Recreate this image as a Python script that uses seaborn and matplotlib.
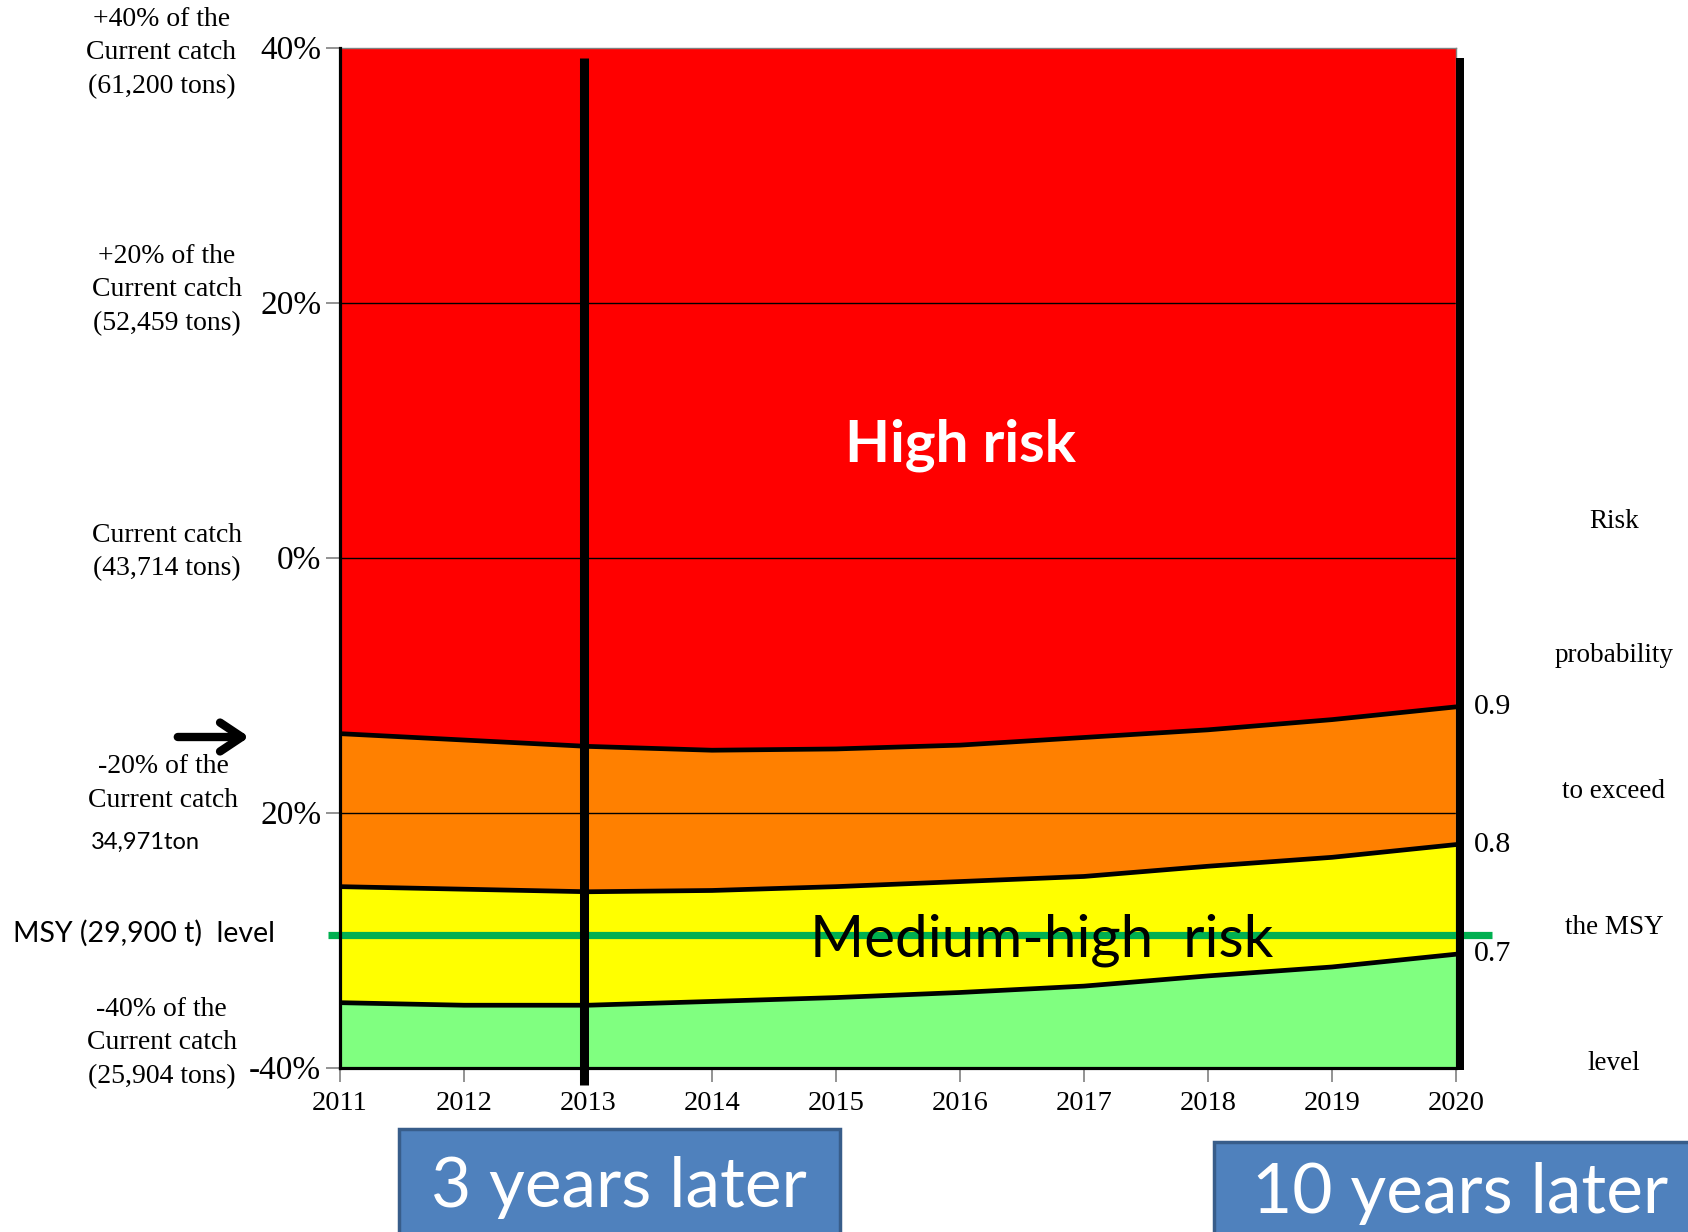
import matplotlib
matplotlib.use("Agg")
import matplotlib.pyplot as plt
from matplotlib.patches import Rectangle
from matplotlib.transforms import offset_copy
import numpy as np
import pandas as pd
import seaborn as sns

# ---- data -------------------------------------------------------------
years = [2011, 2012, 2013, 2014, 2015, 2016, 2017, 2018, 2019, 2020]
# catch change (% of current catch) at which the risk probability of
# exceeding the MSY level equals 0.9 / 0.8 / 0.7
risk_090 = [-13.8, -14.3, -14.8, -15.1, -15.0, -14.7, -14.1, -13.5, -12.7, -11.7]
risk_080 = [-25.8, -26.0, -26.2, -26.1, -25.8, -25.4, -25.0, -24.2, -23.5, -22.5]
risk_070 = [-34.9, -35.1, -35.1, -34.8, -34.5, -34.1, -33.6, -32.8, -32.1, -31.1]
risk_levels = ["0.9", "0.8", "0.7"]
msy_level = -29.6
marker_year = 2013

y_ticks = [40, 20, 0, -20, -40]
y_ticklabels = ["40%", "20%", "0%", "20%", "-40%"]
y_min, y_max = -40, 40

left_notes = [
    "+40% of the\nCurrent catch\n(61,200 tons)",
    "+20% of the\nCurrent catch\n(52,459 tons)",
    "Current catch\n(43,714 tons)",
    "-20% of the\nCurrent catch",
    "-40% of the\nCurrent catch\n(25,904 tons)",
]
right_title = ["Risk", "probability", "to exceed", "the MSY", "level"]

zone_colors = ["#80FF80", "#FFFF00", "#FF8000", "#FF0000"]

df = pd.DataFrame({"year": years, "p90": risk_090, "p80": risk_080, "p70": risk_070})

# ---- figure -----------------------------------------------------------
W, H = 1688, 1232
sns.set_theme(style="white")
plt.rcParams["font.family"] = ["Liberation Serif", "DejaVu Serif"]

fig = plt.figure(figsize=(W / 100, H / 100), dpi=100)
fig.patch.set_facecolor("white")


def fx(px):
    return px / W


def fy(py):
    return 1 - py / H


ax_l, ax_r, ax_t, ax_b = 340, 1456, 47.7, 1067.7
ax = fig.add_axes([fx(ax_l), fy(ax_b), (ax_r - ax_l) / W, (ax_b - ax_t) / H])
ax.set_facecolor("white")

# risk zones
ax.fill_between(df["year"], y_min, df["p70"], color=zone_colors[0], lw=0, zorder=1)
ax.fill_between(df["year"], df["p70"], df["p80"], color=zone_colors[1], lw=0, zorder=1)
ax.fill_between(df["year"], df["p80"], df["p90"], color=zone_colors[2], lw=0, zorder=1)
ax.fill_between(df["year"], df["p90"], y_max, color=zone_colors[3], lw=0, zorder=1)

# horizontal grid lines
for gy in [20, 0, -20]:
    ax.axhline(gy, color="black", lw=1.0, zorder=2)

# zone boundaries
for col in ["p90", "p80", "p70"]:
    sns.lineplot(data=df, x="year", y=col, ax=ax, color="black", lw=3.4, zorder=3)

# labels at the 2020 end of each boundary
for col, lab in zip(["p90", "p80", "p70"], risk_levels):
    ax.annotate(lab, xy=(years[-1], df[col].iloc[-1]), xytext=(13, 0),
                textcoords="offset points", ha="left", va="center",
                fontsize=21.5, color="black", annotation_clip=False)

# MSY reference line
ax.plot([-0.0108, 1.032], [msy_level, msy_level], transform=ax.get_yaxis_transform(),
        color="#00B050", lw=5.2, solid_capstyle="butt", clip_on=False, zorder=4)

# marker year vertical line (nudged a few pixels left, as in the original layout)
vline_tr = offset_copy(ax.transData, fig=fig, x=-4.5, y=0, units="dots")
ax.plot([marker_year, marker_year], [39.2, -41.36], color="black", lw=6.5,
        solid_capstyle="butt", clip_on=False, zorder=5, transform=vline_tr)

# heavy right edge bar
ax.add_patch(Rectangle((1.0, -0.0023), 8 / (ax_r - ax_l), 0.9899 + 0.0023,
                       transform=ax.transAxes, facecolor="black", edgecolor="none",
                       clip_on=False, zorder=6))

# zone titles
ax.text(0.5556, 0.5948, "High risk", transform=ax.transAxes, ha="center", va="baseline",
        fontsize=42, fontweight="bold", color="white", family="Lato", zorder=6)
ax.text(0.629, 0.1095, "Medium-high  risk", transform=ax.transAxes, ha="center",
        va="baseline", fontsize=42, color="black", family="Lato", zorder=6)

# axes styling
ax.set_xlim(years[0], years[-1])
ax.set_ylim(y_min, y_max)
ax.set_xticks(years)
ax.set_xticklabels([str(y) for y in years])
ax.set_yticks(y_ticks)
ax.set_yticklabels(y_ticklabels)
ax.set_xlabel("")
ax.set_ylabel("")
ax.tick_params(axis="both", direction="out", length=10, width=1.2, color="#808080",
               labelcolor="black")
ax.tick_params(axis="y", labelsize=24, pad=3.5, left=True)
ax.tick_params(axis="x", labelsize=20.5, pad=7, bottom=True)
for side in ["left", "bottom"]:
    ax.spines[side].set_color("black")
    ax.spines[side].set_linewidth(2.3)
    ax.spines[side].set_zorder(7)
for side in ["top", "right"]:
    ax.spines[side].set_color("#808080")
    ax.spines[side].set_linewidth(1.0)
ax.grid(False)

# left-hand notes
note_pos = [(161.5, 52.7), (167, 290), (167, 552), (163.5, 783.5), (161.7, 1043)]
for txt, (px, py) in zip(left_notes, note_pos):
    fig.text(fx(px), fy(py), txt, ha="center", va="center", fontsize=20,
             linespacing=1.45, color="black")
fig.text(fx(91), fy(842), "34,971ton", ha="left", va="center", fontsize=17,
         family="Lato", color="black")
fig.text(fx(13), fy(933.5), "MSY (29,900 t)  level", ha="left", va="center",
         fontsize=20.5, family="Lato", color="black")

# arrow pointing at the current 0.9 boundary
ax.annotate("", xy=(fx(252), fy(737)), xytext=(fx(175), fy(737)),
            xycoords="figure fraction", textcoords="figure fraction",
            arrowprops=dict(arrowstyle="->,head_length=0.6,head_width=0.4",
                            lw=6, color="black", mutation_scale=26))

# right-hand title
for txt, py in zip(right_title, [521, 656, 792, 927, 1063]):
    fig.text(fx(1614), fy(py), txt, ha="center", va="center", fontsize=19.5, color="black")

# callout boxes
fig.patches.append(Rectangle((fx(399), fy(1245)), (840 - 399) / W, (1245 - 1129) / H,
                             transform=fig.transFigure, facecolor="#4F81BD",
                             edgecolor="#385D8A", lw=2.5, figure=fig))
fig.patches.append(Rectangle((fx(1214), fy(1245)), (1700 - 1214) / W, (1245 - 1142) / H,
                             transform=fig.transFigure, facecolor="#4F81BD",
                             edgecolor="#385D8A", lw=2.5, figure=fig))
fig.text(fx(619), fy(1207), "3 years later", ha="center", va="baseline", fontsize=50,
         family="Lato", color="white")
fig.text(fx(1460), fy(1213), "10 years later", ha="center", va="baseline", fontsize=50,
         family="Lato", color="white")

fig.savefig("out.png", dpi=100, facecolor="white")
